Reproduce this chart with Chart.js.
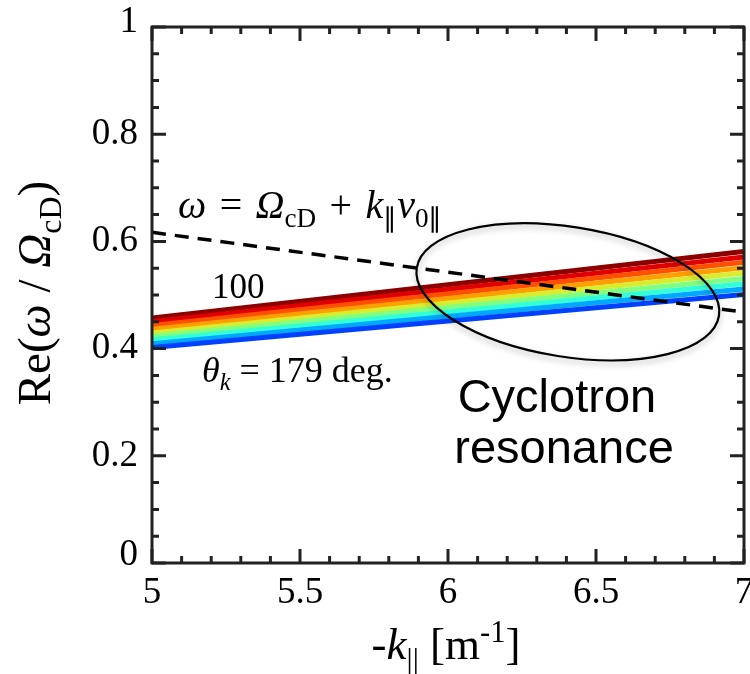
<!DOCTYPE html>
<html><head><meta charset="utf-8">
<script src="https://cdn.jsdelivr.net/npm/chart.js@4.4.1/dist/chart.umd.min.js"></script>
<style>
html,body{margin:0;padding:0;background:#fff;overflow:hidden;}
#wrap{width:760px;height:674px;}
</style></head><body>
<div id="wrap"><canvas id="c" width="760" height="674"></canvas></div>
<script>
// -k_parallel range covered by the dispersion curves [m^-1]
const kPar = [5, 7];
// wave-normal angles of the plotted branches [deg]
const thetaDeg = [100, 110, 120, 130, 140, 150, 160, 170, 179];
// Re(omega / Omega_cD) at kPar[0] and kPar[1] for each angle
const reOmega = [
  [0.457, 0.581],
  [0.450, 0.571],
  [0.443, 0.561],
  [0.436, 0.551],
  [0.429, 0.541],
  [0.423, 0.531],
  [0.416, 0.521],
  [0.409, 0.511],
  [0.402, 0.501]
];
// cyclotron resonance condition omega = Omega_cD + k v0 at kPar[0], kPar[1]
const resonance = [0.617, 0.468];
// jet-like colours, 100 deg (red) to 179 deg (blue)
const bandColors = ['#8c0000', '#e00000', '#ff5000', '#ffa000', '#d8ec30', '#80ff80', '#30ffd8', '#00a8ff', '#0040ff'];
const xTicks = [5, 5.5, 6, 6.5, 7];
const yTicks = [0, 0.2, 0.4, 0.6, 0.8, 1];

const SERIF = '"Liberation Serif", "Times New Roman", serif';
const SANS = '"Liberation Sans", Arial, sans-serif';
const TICK_SIZE = 37;

const datasets = thetaDeg.map((th, i) => ({
  label: 'theta = ' + th,
  data: kPar.map((k, j) => ({x: k, y: reOmega[i][j]})),
  borderColor: bandColors[i],
  borderWidth: 5,
  showLine: true,
  pointRadius: 0,
  order: 10 + (thetaDeg.length - i)
}));
datasets.push({
  label: 'resonance',
  data: kPar.map((k, j) => ({x: k, y: resonance[j]})),
  borderColor: '#000',
  borderWidth: 3.5,
  borderDash: [14, 9],
  showLine: true,
  pointRadius: 0,
  order: 1
});

// rich text: segments {t, it, sub, sup}
function segFont(s, size) {
  const sz = (s.sub || s.sup) ? size * 0.68 : size;
  return (s.it ? 'italic ' : '') + sz + 'px ' + (s.font || SERIF);
}
function richWidth(ctx, segs, size) {
  let w = 0;
  segs.forEach(s => { ctx.font = segFont(s, size); w += ctx.measureText(s.t).width; });
  return w;
}
function drawRich(ctx, segs, x, y, size, align) {
  let cx = align === 'center' ? x - richWidth(ctx, segs, size) / 2 : x;
  ctx.textBaseline = 'alphabetic';
  ctx.textAlign = 'left';
  segs.forEach(s => {
    ctx.font = segFont(s, size);
    const dy = s.sub ? size * 0.24 : (s.sup ? -size * 0.38 : 0);
    ctx.fillText(s.t, cx, y + dy);
    cx += ctx.measureText(s.t).width;
  });
}
const SP = '\u2004';

const frame = {
  id: 'frame',
  afterDatasetsDraw(chart) {
    const {ctx, chartArea: a, scales: {x, y}} = chart;
    ctx.save();
    // resonance region
    ctx.beginPath();
    ctx.ellipse(x.getPixelForValue(6.405), y.getPixelForValue(0.506), 153, 65, 9 * Math.PI / 180, 0, 2 * Math.PI);
    ctx.shadowColor = 'rgba(0,0,0,0.3)';
    ctx.shadowBlur = 6;
    ctx.shadowOffsetY = 3;
    ctx.lineWidth = 2.2;
    ctx.strokeStyle = '#000';
    ctx.stroke();
    ctx.restore();

    ctx.save();
    ctx.fillStyle = '#000';
    drawRich(ctx, [
      {t: 'ω', it: 1}, {t: SP + '=' + SP}, {t: 'Ω', it: 1}, {t: 'cD', sub: 1}, {t: SP + '+' + SP},
      {t: 'k', it: 1}, {t: '∥', sub: 1}, {t: 'v', it: 1}, {t: '0∥', sub: 1}
    ], x.getPixelForValue(5.088), y.getPixelForValue(0.644), 40, 'left');
    drawRich(ctx, [{t: '100'}], x.getPixelForValue(5.203), y.getPixelForValue(0.494), 35, 'left');
    drawRich(ctx, [{t: 'θ', it: 1}, {t: 'k', it: 1, sub: 1}, {t: ' = 179 deg.'}],
      x.getPixelForValue(5.169), y.getPixelForValue(0.338), 36, 'left');
    ctx.font = '47px ' + SANS;
    ctx.textAlign = 'center';
    ctx.textBaseline = 'alphabetic';
    ctx.fillText('Cyclotron', x.getPixelForValue(6.368), y.getPixelForValue(0.282));
    ctx.fillText('resonance', x.getPixelForValue(6.392), y.getPixelForValue(0.187));

    // axis box with inward ticks on all four sides
    ctx.strokeStyle = '#222';
    ctx.lineWidth = 3;
    ctx.lineCap = 'square';
    ctx.strokeRect(a.left, a.top, a.right - a.left, a.bottom - a.top);
    ctx.lineCap = 'butt';
    ctx.beginPath();
    for (let i = 0; i <= 20; i++) {
      const px = x.getPixelForValue(5 + i * 0.1);
      const len = (i % 5 === 0) ? 14 : 7;
      ctx.moveTo(px, a.bottom); ctx.lineTo(px, a.bottom - len);
      ctx.moveTo(px, a.top); ctx.lineTo(px, a.top + len);
    }
    for (let i = 0; i <= 20; i++) {
      const py = y.getPixelForValue(i * 0.05);
      const len = (i % 4 === 0) ? 14 : 7;
      ctx.moveTo(a.left, py); ctx.lineTo(a.left + len, py);
      ctx.moveTo(a.right, py); ctx.lineTo(a.right - len, py);
    }
    ctx.stroke();

    // tick labels (end labels nudged inside the axis range)
    ctx.fillStyle = '#000';
    ctx.font = TICK_SIZE + 'px ' + SERIF;
    ctx.textAlign = 'right';
    ctx.textBaseline = 'middle';
    yTicks.forEach(v => {
      let py = y.getPixelForValue(v);
      if (v === y.max) py -= 5;
      if (v === y.min) py -= 8;
      ctx.fillText(String(v), a.left - 14, py);
    });
    ctx.textAlign = 'center';
    ctx.textBaseline = 'top';
    xTicks.forEach(v => {
      ctx.fillText(String(v), x.getPixelForValue(v), a.bottom + 12);
    });

    // axis titles
    drawRich(ctx, [{t: '-'}, {t: 'k', it: 1}, {t: '||', sub: 1}, {t: ' [m'}, {t: '-1', sup: 1}, {t: ']'}],
      446, 659, 45, 'center');
    ctx.save();
    ctx.translate(0, 293);
    ctx.rotate(-Math.PI / 2);
    drawRich(ctx, [{t: 'Re('}, {t: 'ω', it: 1}, {t: ' / '}, {t: 'Ω', it: 1}, {t: 'cD', sub: 1}, {t: ')'}],
      0, 50, 47, 'center');
    ctx.restore();
    ctx.restore();
  }
};

new Chart(document.getElementById('c'), {
  type: 'scatter',
  data: {datasets},
  options: {
    responsive: false,
    animation: false,
    events: [],
    layout: {padding: {top: 27, right: 16, left: 0, bottom: 0}},
    plugins: {legend: {display: false}, tooltip: {enabled: false}},
    scales: {
      x: {
        type: 'linear', min: 5, max: 7,
        afterBuildTicks: s => { s.ticks = xTicks.map(v => ({value: v})); },
        afterFit: s => { s.height = 111; },
        grid: {display: false, drawTicks: false},
        border: {display: false},
        ticks: {display: false}
      },
      y: {
        type: 'linear', min: 0, max: 1,
        afterBuildTicks: s => { s.ticks = yTicks.map(v => ({value: v})); },
        afterFit: s => { s.width = 152; },
        grid: {display: false, drawTicks: false},
        border: {display: false},
        ticks: {display: false}
      }
    }
  },
  plugins: [frame]
});
</script>
</body></html>
